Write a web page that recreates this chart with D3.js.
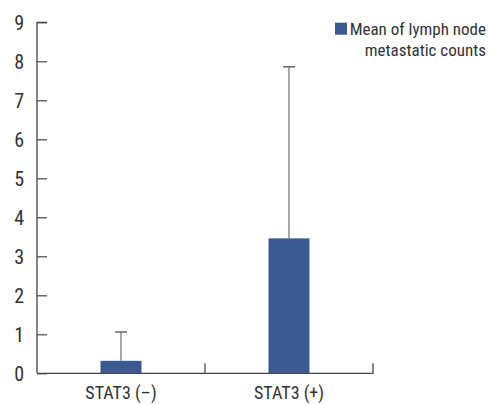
<!DOCTYPE html>
<html><head><meta charset="utf-8">
<script src="https://cdn.jsdelivr.net/npm/d3@7"></script>
<style>
html,body{margin:0;padding:0;background:#fff;}
text{font-family:"Liberation Sans Narrow","Roboto Condensed","Arial Narrow",Roboto,sans-serif;fill:#333;}
</style></head>
<body><svg id="c" width="494" height="404"></svg>
<script>
const categories = ["STAT3 (\u2013)", "STAT3 (+)"];
const means = [0.32, 3.46];
const errUpper = [1.06, 7.86];
const yTicks = [0,1,2,3,4,5,6,7,8,9];
const legendLines = ["Mean of lymph node", "metastatic counts"];

const svg = d3.select("#c");
const m = {left:37, right:121, top:22.3, bottom:30.7};
const W = 494, H = 404;
const x = d3.scaleBand().domain(categories).range([m.left, W - m.right]).paddingInner(0).paddingOuter(0);
const y = d3.scaleLinear().domain([0,9]).range([H - m.bottom, m.top]);
const barW = 41;

// y axis
const yAxis = svg.append("g").attr("transform",`translate(${m.left},0)`)
  .call(d3.axisRight(y).tickValues(yTicks).tickSize(10).tickFormat(d3.format("d")));
yAxis.select(".domain").attr("stroke","#444").attr("stroke-width",1.3).attr("d",`M10,${y(9)}H0V${y(0)}`);
yAxis.selectAll(".tick line").attr("stroke","#444").attr("stroke-width",1.2);
yAxis.selectAll(".tick text").attr("x",-13).attr("text-anchor","end").attr("dy","0.35em")
  .style("font-size","20px").style("fill","#333");

// x axis
const xAxis = svg.append("g").attr("transform",`translate(0,${y(0)})`)
  .call(d3.axisBottom(x).tickSize(0).tickPadding(13));
xAxis.select(".domain").attr("stroke","#444").attr("stroke-width",1.3).attr("d",`M${m.left},0H${W-m.right}V-10`);
xAxis.selectAll(".tick text").style("font-size","18px").style("fill","#333").attr("dy","0.71em");
// category boundary ticks
const bounds = [x(categories[1])];
svg.selectAll(".bt").data(bounds).enter().append("line")
  .attr("x1",d=>d).attr("x2",d=>d).attr("y1",y(0)).attr("y2",y(0)-10)
  .attr("stroke","#444").attr("stroke-width",1.2);

// error bars
const eg = svg.append("g");
categories.forEach((c,i)=>{
  const cx = x(c) + x.bandwidth()/2;
  eg.append("line").attr("x1",cx).attr("x2",cx).attr("y1",y(means[i])).attr("y2",y(errUpper[i]))
    .attr("stroke","#888").attr("stroke-width",1.5);
  eg.append("line").attr("x1",cx-6).attr("x2",cx+6).attr("y1",y(errUpper[i])).attr("y2",y(errUpper[i]))
    .attr("stroke","#666").attr("stroke-width",1.5);
});

// bars
svg.append("g").selectAll("rect").data(categories).enter().append("rect")
  .attr("x",c=>x(c)+x.bandwidth()/2-barW/2)
  .attr("width",barW)
  .attr("y",(c,i)=>y(means[i]))
  .attr("height",(c,i)=>y(0)-y(means[i]))
  .attr("fill","#3c5a91");

// legend
const lg = svg.append("g");
lg.append("rect").attr("x",335).attr("y",22.7).attr("width",12).attr("height",12).attr("fill","#3c5a91");
lg.selectAll("text").data(legendLines).enter().append("text")
  .attr("x",486).attr("y",(d,i)=>35+i*20.5).attr("text-anchor","end")
  .style("font-size","17px").text(d=>d);
</script></body></html>
